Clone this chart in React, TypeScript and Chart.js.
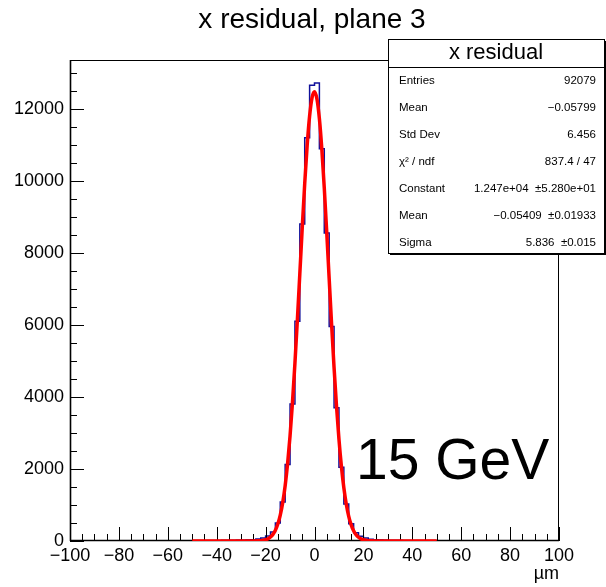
import { useEffect, useRef } from "react";
import { Chart, registerables } from "chart.js";

Chart.register(...registerables);

// ---------- data ----------
const titleText = "x residual, plane 3";
const xAxisTitle = "\u00b5m";
const energyLabel = "15 GeV";

const binLow = -100;
const binWidth = 2;
// counts per 2 µm bin, bins from -100 to 100 (centres -99 ... 99)
const counts = [
  1, 0, 1, 0, 1, 1, 0, 1, 1, 1, 1, 2, 1, 1, 2, 2, 1, 2, 2, 3, 2, 3, 3, 4, 4,
  5, 5, 6, 7, 8, 9, 11, 13, 15, 18, 22, 28, 38, 55, 85, 140, 250, 500, 1080, 2120, 3800, 6100, 8800, 11190, 12650,
  12710, 10890, 8550, 5950, 3700, 2050, 1030, 480, 230, 130, 80, 52, 36, 27, 21, 17, 14, 12, 10, 9, 8, 7, 6, 5, 5,
  4, 4, 3, 3, 2, 3, 2, 2, 1, 2, 1, 1, 2, 1, 1, 1, 0, 1, 1, 0, 1, 0, 1, 0, 1,
];

// gaussian fit curve sample points
const fitX = [-50, -30, -25, -23, -22, -21, -20, -19, -18, -17, -16, -15, -14, -13, -12, -11, -10, -9, -8, -7, -6, -5, -4, -3, -2, -1, 0, 1, 2, 3, 4, 5, 6, 7, 8, 9, 10, 11, 12, 13, 14, 15, 16, 17, 18, 19, 20, 21, 22, 23, 25, 30, 50];
const fitY = [0, 0, 1, 5, 10, 20, 36, 64, 110, 184, 298, 470, 718, 1065, 1535, 2147, 2919, 3851, 4935, 6142, 7421, 8708, 9922, 10978, 11796, 12307, 12469, 12268, 11721, 10874, 9797, 8571, 7281, 6007, 4812, 3743, 2828, 2074, 1477, 1022, 686, 448, 284, 174, 104, 60, 34, 19, 10, 5, 1, 0, 0];

const xMin = -100;
const xMax = 100;
const yMin = 0;
const yMax = 13350;
const xTickLabels = [-100, -80, -60, -40, -20, 0, 20, 40, 60, 80, 100];
const yTickLabels = [0, 2000, 4000, 6000, 8000, 10000, 12000];
const xMajorStep = 20;
const xMinorStep = 5;
const yMajorStep = 2000;
const yMinorStep = 500;

const statsTitle = "x residual";
const statsLabels = ["Entries", "Mean", "Std Dev", "\u03c7\u00b2 / ndf", "Constant", "Mean", "Sigma"];
const statsValues = [
  "92079",
  "\u22120.05799",
  "6.456",
  "837.4 / 47",
  "1.247e+04  \u00b15.280e+01",
  "\u22120.05409  \u00b10.01933",
  "5.836  \u00b10.015",
];

const FONT = "'Liberation Sans', Arial, Helvetica, sans-serif";

const fmt = (v: number) => String(v).replace("-", "\u2212");

function drawFrame(chart: any) {
  const { ctx, chartArea, scales } = chart;
  const { left, right, top, bottom } = chartArea;
  const xs = scales.x;
  const ys = scales.y;
  ctx.save();
  ctx.strokeStyle = "#000";
  ctx.lineWidth = 1;
  ctx.strokeRect(left + 0.5, top + 0.5, right - left - 1, bottom - top - 1);
  ctx.lineWidth = 1.6;
  ctx.beginPath();
  ctx.moveTo(left, bottom - 0.5);
  ctx.lineTo(right, bottom - 0.5);
  ctx.moveTo(left + 0.5, bottom);
  ctx.lineTo(left + 0.5, top);
  ctx.stroke();
  ctx.lineWidth = 1;
  ctx.beginPath();
  for (let v = xMin; v <= xMax + 1e-9; v += xMinorStep) {
    const px = Math.round(xs.getPixelForValue(v)) + 0.5;
    const major = Math.abs(v % xMajorStep) < 1e-9;
    const len = major ? 14 : 7;
    ctx.moveTo(px, bottom);
    ctx.lineTo(px, bottom - len);
  }
  for (let v = yMin; v <= yMax + 1e-9; v += yMinorStep) {
    const py = Math.round(ys.getPixelForValue(v)) + 0.5;
    const major = Math.abs(v % yMajorStep) < 1e-9;
    const len = major ? 14 : 7;
    ctx.moveTo(left, py);
    ctx.lineTo(left + len, py);
  }
  ctx.stroke();
  ctx.restore();
}

const rootPlugin = {
  id: "rootDecor",
  afterDatasetDraw(chart: any, args: any) {
    // histogram (index 1) is drawn first; put the frame over it, under the fit
    if (args.index === 1) drawFrame(chart);
  },
  afterDraw(chart: any) {
    const { ctx, chartArea } = chart;
    ctx.save();
    ctx.fillStyle = "#000";
    // title
    ctx.font = `28px ${FONT}`;
    ctx.textAlign = "center";
    ctx.textBaseline = "alphabetic";
    ctx.fillText(titleText, 312, 28);
    // axis title
    ctx.font = `18px ${FONT}`;
    ctx.textAlign = "right";
    ctx.fillText(xAxisTitle, chartArea.right, 579);
    // energy label
    ctx.font = `57px ${FONT}`;
    ctx.textAlign = "left";
    ctx.fillText(energyLabel, 356, 479);

    // stats box
    const bx = 388, by = 39, bw = 216, bh = 214;
    ctx.fillStyle = "#fff";
    ctx.fillRect(bx, by, bw, bh);
    ctx.fillStyle = "#000";
    ctx.fillRect(bx + 2, by + bh, bw, 2);
    ctx.fillRect(bx + bw, by + 2, 2, bh);
    ctx.strokeStyle = "#000";
    ctx.lineWidth = 1;
    ctx.strokeRect(bx + 0.5, by + 0.5, bw, bh);
    ctx.beginPath();
    ctx.moveTo(bx, 67.5);
    ctx.lineTo(bx + bw, 67.5);
    ctx.stroke();
    ctx.font = `22px ${FONT}`;
    ctx.textAlign = "center";
    ctx.textBaseline = "middle";
    ctx.fillText(statsTitle, bx + bw / 2, 53);
    ctx.font = `11.5px ${FONT}`;
    const rowY0 = 81;
    const rowStep = 26.9;
    statsLabels.forEach((lab, i) => {
      const yy = rowY0 + i * rowStep;
      ctx.textAlign = "left";
      ctx.fillText(lab, 399, yy);
      ctx.textAlign = "right";
      ctx.fillText(statsValues[i], 596, yy);
    });
    ctx.restore();
  },
};

export default function App() {
  const ref = useRef<HTMLCanvasElement | null>(null);
  useEffect(() => {
    document.body.style.margin = "0";
    const canvas = ref.current;
    if (!canvas) return;
    const histPoints = counts.map((c, i) => ({ x: binLow + i * binWidth, y: c }));
    histPoints.push({ x: binLow + counts.length * binWidth, y: counts[counts.length - 1] });
    const fitPoints = fitX.map((x, i) => ({ x, y: fitY[i] }));
    const chart = new Chart(canvas, {
      type: "line",
      data: {
        datasets: [
          {
            label: "fit",
            data: fitPoints,
            borderColor: "#ff0000",
            borderWidth: 3.5,
            pointRadius: 0,
            cubicInterpolationMode: "monotone",
            fill: false,
          },
          {
            label: "hist",
            data: histPoints,
            borderColor: "#10109a",
            borderWidth: 1.5,
            pointRadius: 0,
            stepped: "before",
            fill: false,
          },
        ],
      },
      options: {
        animation: false,
        responsive: false,
        devicePixelRatio: 1,
        layout: { padding: { top: 60, right: 47, left: 0, bottom: 0 } },
        plugins: {
          legend: { display: false },
          tooltip: { enabled: false },
          title: { display: false },
        },
        scales: {
          x: {
            type: "linear",
            min: xMin,
            max: xMax,
            afterBuildTicks: (s: any) => {
              s.ticks = xTickLabels.map((v) => ({ value: v }));
            },
            afterFit: (s: any) => {
              s.height = 46;
            },
            grid: { display: false, drawTicks: false },
            border: { display: false },
            ticks: {
              autoSkip: false,
              maxRotation: 0,
              padding: 4,
              color: "#000",
              font: { family: FONT, size: 18 },
              callback: (v: any) => fmt(Number(v)),
            },
          },
          y: {
            type: "linear",
            min: yMin,
            max: yMax,
            afterBuildTicks: (s: any) => {
              s.ticks = yTickLabels.map((v) => ({ value: v }));
            },
            afterFit: (s: any) => {
              s.width = 70;
            },
            grid: { display: false, drawTicks: false },
            border: { display: false },
            ticks: {
              autoSkip: false,
              padding: 6,
              color: "#000",
              font: { family: FONT, size: 18 },
              callback: (v: any) => fmt(Number(v)),
            },
          },
        },
      } as any,
      plugins: [rootPlugin],
    });
    return () => chart.destroy();
  }, []);
  return (
    <div style={{ width: 606, height: 587, background: "#fff" }}>
      <canvas ref={ref} width={606} height={587} style={{ display: "block" }} />
    </div>
  );
}
